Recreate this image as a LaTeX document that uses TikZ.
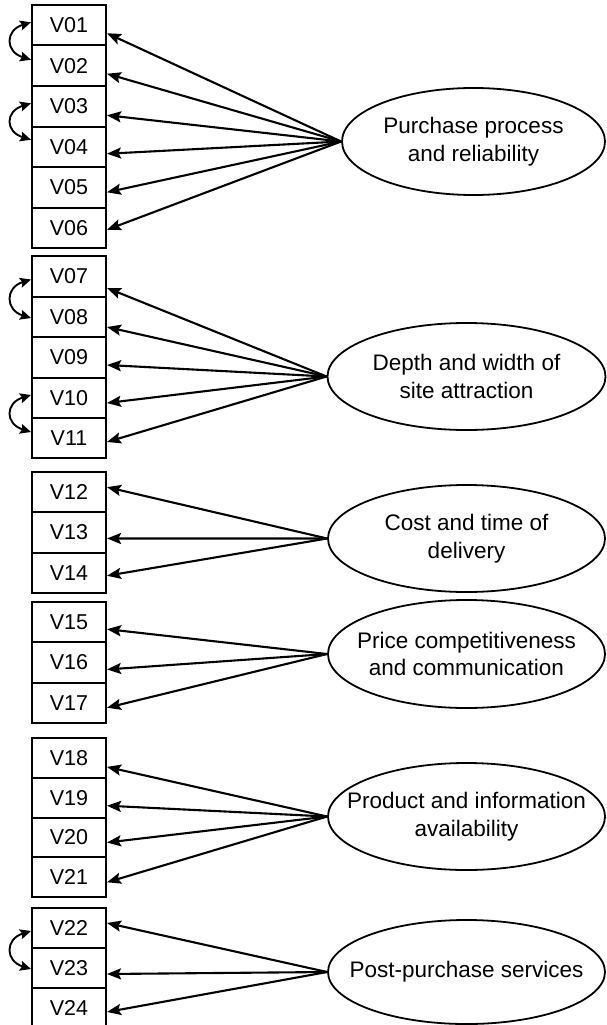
\documentclass[tikz,border=0pt]{standalone}
\usepackage{fontspec}
\setmainfont{Liberation Sans}
\usetikzlibrary{shapes.geometric,arrows.meta}
\begin{document}
\begin{tikzpicture}[x=1pt,y=-1pt,
 vbox/.style={draw,line width=2pt,minimum width=74pt,inner sep=0pt,font=\fontsize{21.5}{25}\selectfont},
 fac/.style={draw,ellipse,line width=1.8pt,inner sep=0pt},
 ftext/.style={align=center,font=\fontsize{22.5}{27.5}\selectfont,inner sep=0pt},
 load/.style={line width=2.1pt,-{Stealth[length=14pt,width=11pt,inset=2.5pt]}},
 cov/.style={line width=1.9pt,{Stealth[length=11pt,width=10pt,inset=2pt]}-{Stealth[length=11pt,width=10pt,inset=2pt]}}
]
\useasboundingbox (0,0) rectangle (606,1025);

% boxes
\foreach \n/\y/\h in {01/25.25/40.5,02/65.75/40.5,03/106.25/40.5,04/146.75/40.5,05/187.25/40.5,06/227.75/40.5,
  07/276.5/40.5,08/317/40.5,09/357.5/40.5,10/398/40.5,11/438/40.5,
  12/492.15/40.3,13/532.45/40.3,14/572.75/40.3,
  15/622.15/40.3,16/662.45/40.3,17/702.75/40.3,
  18/757.9/39.8,19/797.7/39.8,20/837.5/39.8,21/877.3/39.8,
  22/928/40,23/968/40,24/1008/40}
  \node[vbox,minimum height=\h pt] (V\n) at (69,\y) {V\n};

% factors
\node[fac,minimum width=263pt,minimum height=107pt,
  label={[ftext]center:Purchase process\\and reliability}] (F1) at (473.5,141.5) {};
\node[fac,minimum width=278pt,minimum height=107pt,
  label={[ftext]center:Depth and width of\\site attraction}] (F2) at (466.5,376.5) {};
\node[fac,minimum width=277pt,minimum height=107pt,
  label={[ftext]center:Cost and time of\\delivery}] (F3) at (466.5,538.5) {};
\node[fac,minimum width=277pt,minimum height=108pt,
  label={[ftext]center:Price competitiveness\\and communication}] (F4) at (466.5,654) {};
\node[fac,minimum width=277pt,minimum height=107pt,
  label={[ftext]center:Product and information\\availability}] (F5) at (466.5,816.5) {};
\node[fac,minimum width=277pt,minimum height=104pt,
  label={[ftext]center:Post-purchase services}] (F6) at (466.5,972) {};

% loadings
\foreach \n/\d in {01/8,02/8,03/9,04/7,05/5,06/2}
  \draw[load] (F1.west) -- ([yshift=-\d pt]V\n.east);
\foreach \n/\d in {07/11.5,08/10,09/7.5,10/5,11/4}
  \draw[load] (F2.west) -- ([yshift=-\d pt]V\n.east);
\foreach \n/\d in {12/-5,13/6,14/3}
  \draw[load] (F3.west) -- ([yshift=-\d pt]V\n.east);
\foreach \n/\d in {15/7,16/7,17/5}
  \draw[load] (F4.west) -- ([yshift=-\d pt]V\n.east);
\foreach \n/\d in {18/9,19/8,20/5,21/5}
  \draw[load] (F5.west) -- ([yshift=-\d pt]V\n.east);
\foreach \n/\d in {22/-5,23/6,24/4}
  \draw[load] (F6.west) -- ([yshift=-\d pt]V\n.east);

% covariances
\draw[cov] ([yshift=3pt]V01.west) .. controls +(-26,8) and +(-26,-8) .. ([yshift=6pt]V02.west);
\draw[cov] ([yshift=3pt]V03.west) .. controls +(-26,8) and +(-26,-8) .. ([yshift=7pt]V04.west);
\draw[cov] ([yshift=-3pt]V07.west) .. controls +(-26,8) and +(-26,-8) .. ([yshift=-1pt]V08.west);
\draw[cov] ([yshift=3pt]V10.west) .. controls +(-26,8) and +(-26,-8) .. ([yshift=6pt]V11.west);
\draw[cov] ([yshift=-3pt]V22.west) .. controls +(-26,8) and +(-26,-8) .. ([yshift=-1pt]V23.west);
\end{tikzpicture}
\end{document}
